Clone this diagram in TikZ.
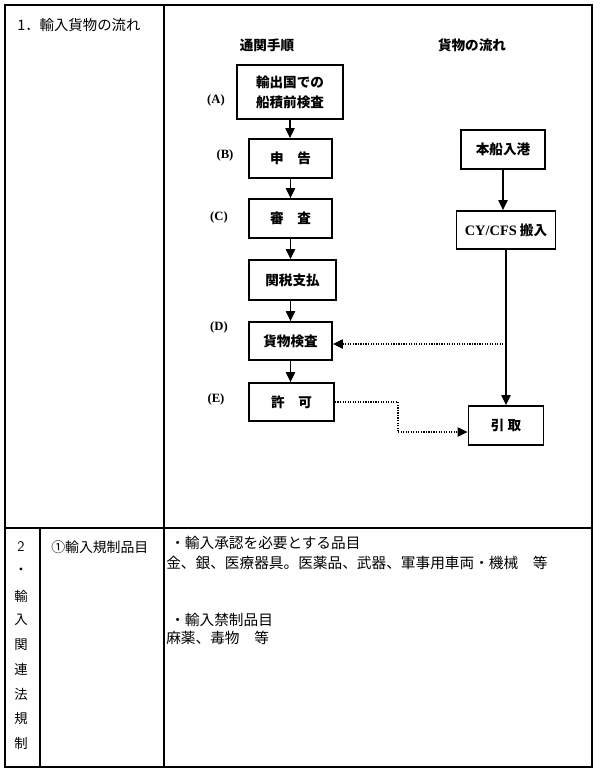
\documentclass[tikz,border=0pt]{standalone}
\usepackage{fontspec}
\usetikzlibrary{arrows.meta}
\setmainfont{Liberation Serif}
\newfontfamily\jp{Noto Sans CJK JP}
\tikzset{
  tline/.style={line width=1pt},
  fbox/.style={draw, line width=1.4pt, inner sep=0pt, align=center,
    font=\jp\bfseries\fontsize{10.2}{15}\selectfont},
  lab/.style={font=\bfseries\fontsize{9.5}{11}\selectfont, inner sep=0pt},
  hdr/.style={font=\jp\bfseries\fontsize{10.2}{12}\selectfont, inner sep=0pt},
  body/.style={font=\jp\fontsize{11}{13}\selectfont, inner sep=0pt, anchor=west},
  vch/.style={font=\jp\fontsize{10}{12}\selectfont, inner sep=0pt},
  arr/.style={line width=0.9pt, -{Triangle[length=7.5pt,width=7pt]}},
  darr/.style={line width=0.9pt, densely dotted, -{Triangle[length=7.5pt,width=7pt]}},
  dline/.style={line width=0.9pt, densely dotted},
}
\begin{document}
\begin{tikzpicture}[x=0.75pt,y=-0.75pt]
\useasboundingbox (0,0) rectangle (600,776);
% table frame
\coordinate (tl) at (5,5);
\coordinate (br) at (592,767);
\draw[line width=1.1pt] (tl) rectangle (br);
\draw[tline] (164,5) -- (164,767);
\draw[tline] (5,528) -- (592,528);
\draw[tline] (40,528) -- (40,767);

% cell texts
\node[body, font=\jp\fontsize{10.8}{13}\selectfont] (t1) at (17,25) {1．輸入貨物の流れ};
\node[body, font=\jp\fontsize{10.4}{12}\selectfont] (t2) at (51,547) {①輸入規制品目};
\node[body] (b1) at (170,543) {・輸入承認を必要とする品目};
\node[body] (b2) at (166,563) {金、銀、医療器具。医薬品、武器、軍事用車両・機械　等};
\node[body] (b3) at (170,620) {・輸入禁制品目};
\node[body] (b4) at (166,638) {麻薬、毒物　等};

% vertical column
\node[vch, font=\fontsize{11}{12}\selectfont\sffamily] (v1) at (21,547) {2};
\node[vch] (v2) at (21,571) {・};
\node[vch] (v3) at (21,596) {輸};
\node[vch] (v4) at (21,620) {入};
\node[vch] (v5) at (21,645) {関};
\node[vch] (v6) at (21,669) {連};
\node[vch] (v7) at (21,694) {法};
\node[vch] (v8) at (21,718) {規};
\node[vch] (v9) at (21,743) {制};

% headers
\node[hdr] (h1) at (267,45) {通関手順};
\node[hdr] (h2) at (472,45) {貨物の流れ};

% flow boxes
\node[fbox, minimum width=79.5pt, minimum height=40.5pt] (A) at (290,92) {輸出国での\\船積前検査};
\node[fbox, minimum width=62.25pt, minimum height=29.25pt] (B) at (290.5,158.5) {申　告};
\node[fbox, minimum width=62.25pt, minimum height=29.25pt] (C) at (290.5,218.5) {審　査};
\node[fbox, minimum width=65.25pt, minimum height=30pt] (T) at (292.5,280) {関税支払};
\node[fbox, minimum width=62.25pt, minimum height=28.5pt] (D) at (290.5,341) {貨物検査};
\node[fbox, minimum width=63.75pt, minimum height=28.5pt] (E) at (291.5,402) {許　可};
\node[fbox, minimum width=63pt, minimum height=29.25pt] (P) at (503,149.5) {本船入港};
\node[fbox, minimum width=74.25pt, minimum height=28.5pt] (Y) at (506,230) {{\fontspec{Liberation Serif}\bfseries\fontsize{10.8}{13}\selectfont CY/CFS} 搬入};
\node[fbox, minimum width=56.25pt, minimum height=29.25pt] (H) at (506,425.5) {引 取};

% labels
\node[lab] (lA) at (216,100) {(A)};
\node[lab] (lB) at (225,155) {(B)};
\node[lab] (lC) at (219,217) {(C)};
\node[lab] (lD) at (219,327) {(D)};
\node[lab] (lE) at (216,399) {(E)};

% arrows
\draw[arr] (A.south) -- (A.south |- B.north);
\draw[arr] (B.south) -- (B.south |- C.north);
\draw[arr] (C.south) -- (C.south |- T.north);
\draw[arr] (D.north |- T.south) -- (D.north);
\draw[arr] (D.south) -- (D.south |- E.north);
\draw[arr] (P.south) -- (P.south |- Y.north);
\draw[arr] (Y.south) -- (Y.south |- H.north);
\coordinate (br1) at (506,344);
\draw[darr] (br1) -- (D.east |- br1);
\coordinate (k1) at (398,402);
\coordinate (k2) at (398,432);
\draw[dline] (E.east) -- (k1) -- (k2);
\draw[darr] (k2) -- (H.west |- k2);
\end{tikzpicture}
\end{document}
